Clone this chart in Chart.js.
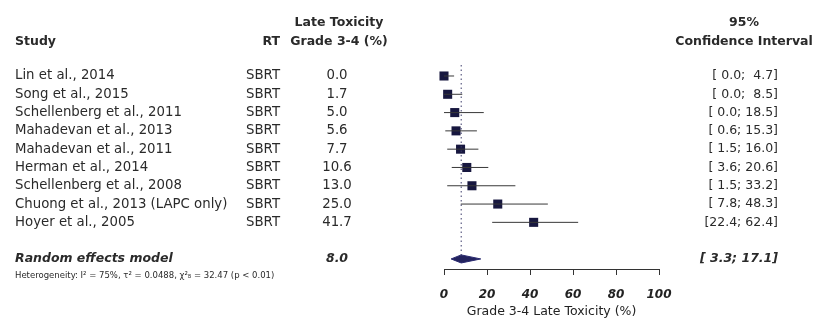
<!DOCTYPE html>
<html lang="en">
<head>
    <meta charset="UTF-8">
    <title>Late Toxicity Forest Plot</title>
    <script src="https://cdn.jsdelivr.net/npm/chart.js@4.4.0/dist/chart.umd.min.js"></script>
    <style>
        body {
            margin: 0;
            background: #fff;
        }
    </style>
</head>
<body>
<canvas id="myChart" width="823" height="322"></canvas>

<script>
    // study rows
    var studies = ["Lin et al., 2014", "Song et al., 2015", "Schellenberg et al., 2011",
        "Mahadevan et al., 2013", "Mahadevan et al., 2011", "Herman et al., 2014",
        "Schellenberg et al., 2008", "Chuong et al., 2013 (LAPC only)", "Hoyer et al., 2005"];
    var rt = ["SBRT", "SBRT", "SBRT", "SBRT", "SBRT", "SBRT", "SBRT", "SBRT", "SBRT"];
    var toxicity = [0.0, 1.7, 5.0, 5.6, 7.7, 10.6, 13.0, 25.0, 41.7];
    var ciLow = [0.0, 0.0, 0.0, 0.6, 1.5, 3.6, 1.5, 7.8, 22.4];
    var ciHigh = [4.7, 8.5, 18.5, 15.3, 16.0, 20.6, 33.2, 48.3, 62.4];

    // random effects model
    var pooled = 8.0;
    var pooledLow = 3.3;
    var pooledHigh = 17.1;
    var pooledRow = 10;
    var heterogeneity = "Heterogeneity: I\u00b2 = 75%, \u03c4\u00b2 = 0.0488, \u03c7\u00b2\u2088 = 32.47 (p < 0.01)";

    var xTicks = [0, 20, 40, 60, 80, 100];

    var fmt = function (v) {
        var s = v.toFixed(1);
        return s.length < 4 ? " " + s : s;
    };

    var datasets = [];
    // CI lines
    for (var i = 0; i < studies.length; i++) {
        datasets.push({
            type: "line",
            data: [{x: ciLow[i], y: i}, {x: ciHigh[i], y: i}],
            borderColor: "#383838",
            borderWidth: 1,
            pointRadius: 0,
            clip: false
        });
    }
    // dotted line at pooled estimate
    datasets.push({
        type: "line",
        data: [{x: pooled, y: -0.6}, {x: pooled, y: pooledRow - 0.2}],
        borderColor: "#3a3a6a",
        borderWidth: 1,
        borderDash: [1.5, 3],
        pointRadius: 0
    });
    // squares
    datasets.push({
        type: "scatter",
        data: toxicity.map(function (v, i) { return {x: v, y: i}; }),
        pointStyle: "rect",
        pointRadius: 6.4,
        pointHoverRadius: 6.4,
        backgroundColor: "#17173f",
        borderColor: "#17173f",
        borderWidth: 0,
        clip: false
    });
    // diamond, upper and lower halves
    datasets.push({
        type: "line",
        data: [{x: pooledLow, y: pooledRow}, {x: pooled, y: pooledRow - 0.22}, {x: pooledHigh, y: pooledRow}],
        borderColor: "#2a2a70",
        borderWidth: 1,
        pointRadius: 0,
        tension: 0,
        fill: false
    });
    datasets.push({
        type: "line",
        data: [{x: pooledLow, y: pooledRow}, {x: pooled, y: pooledRow + 0.22}, {x: pooledHigh, y: pooledRow}],
        borderColor: "#2a2a70",
        backgroundColor: "#23235f",
        borderWidth: 1,
        pointRadius: 0,
        tension: 0,
        fill: "-1"
    });

    var textFont = "13.3px 'DejaVu Sans'";
    var ciFont = "12.5px 'DejaVu Sans'";
    var boldFont = "bold 12.5px 'DejaVu Sans'";
    var boldItalic = "italic bold 12.5px 'DejaVu Sans'";

    var textColumns = {
        id: "textColumns",
        afterDraw: function (chart) {
            var ctx = chart.ctx;
            var y = chart.scales.y;
            ctx.save();
            ctx.fillStyle = "#2a2a2a";
            ctx.textBaseline = "middle";

            // headers
            ctx.font = boldFont;
            ctx.textAlign = "left";
            ctx.fillText("Study", 15, 42);
            ctx.textAlign = "right";
            ctx.fillText("RT", 280, 42);
            ctx.textAlign = "center";
            ctx.fillText("Late Toxicity", 339, 23);
            ctx.fillText("Grade 3-4 (%)", 339, 42);
            ctx.fillText("95%", 744, 23);
            ctx.fillText("Confidence Interval", 744, 42);

            for (var i = 0; i < studies.length; i++) {
                var py = y.getPixelForValue(i);
                ctx.font = textFont;
                ctx.textAlign = "left";
                ctx.fillText(studies[i], 15, py);
                ctx.textAlign = "right";
                ctx.fillText(rt[i], 280, py);
                ctx.textAlign = "center";
                ctx.fillText(toxicity[i].toFixed(1), 337, py);
                ctx.font = ciFont;
                ctx.textAlign = "right";
                ctx.fillText("[" + fmt(ciLow[i]) + "; " + fmt(ciHigh[i]) + "]", 778, py);
            }

            var ry = y.getPixelForValue(pooledRow);
            ctx.font = boldItalic;
            ctx.textAlign = "left";
            ctx.fillText("Random effects model", 15, ry);
            ctx.textAlign = "center";
            ctx.fillText(pooled.toFixed(1), 337, ry);
            ctx.textAlign = "right";
            ctx.fillText("[" + fmt(pooledLow) + "; " + fmt(pooledHigh) + "]", 778, ry);

            ctx.font = "8.5px 'DejaVu Sans'";
            ctx.textAlign = "left";
            ctx.fillText(heterogeneity, 15, ry + 17);
            ctx.restore();
        }
    };

    var ctx = document.getElementById("myChart").getContext("2d");
    var myChart = new Chart(ctx, {
        type: "scatter",
        data: {datasets: datasets},
        plugins: [textColumns],
        options: {
            responsive: false,
            animation: false,
            layout: {padding: {left: 444, right: 164, top: 60, bottom: 0}},
            plugins: {legend: {display: false}, tooltip: {enabled: false}},
            scales: {
                x: {
                    type: "linear",
                    min: 0,
                    max: 100,
                    afterBuildTicks: function (scale) {
                        scale.ticks = xTicks.map(function (v) { return {value: v}; });
                    },
                    afterFit: function (scale) {
                        scale.height = 53;
                    },
                    grid: {drawOnChartArea: false, tickLength: 6, color: "#333"},
                    border: {color: "#333", width: 1},
                    ticks: {
                        padding: 13,
                        color: "#222",
                        font: {family: "DejaVu Sans", size: 12, weight: "bold", style: "italic"}
                    },
                    title: {
                        display: true,
                        text: "Grade 3-4 Late Toxicity (%)",
                        color: "#222",
                        font: {family: "DejaVu Sans", size: 12.5},
                        padding: {top: 0, bottom: 3}
                    }
                },
                y: {
                    type: "linear",
                    display: false,
                    reverse: true,
                    min: -0.874,
                    max: 10.55
                }
            }
        }
    });
</script>
</body>
</html>
